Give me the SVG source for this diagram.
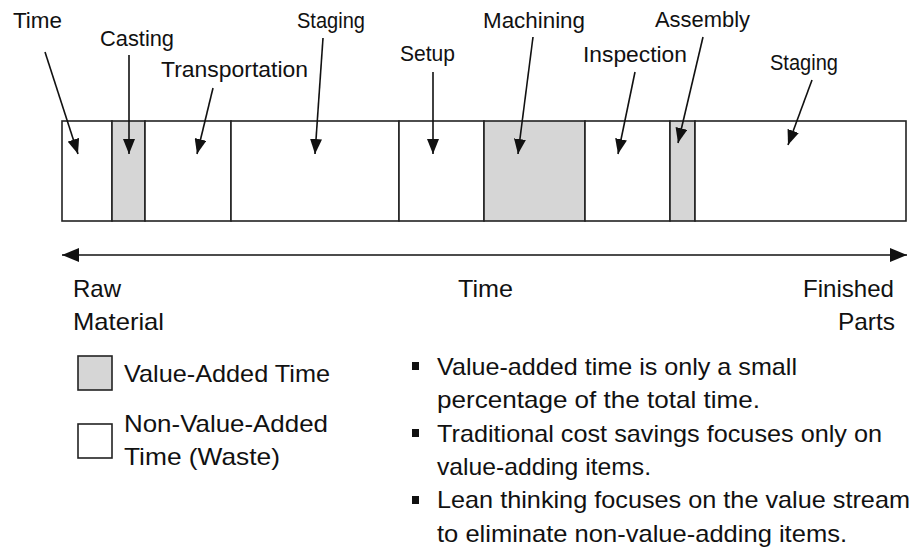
<svg xmlns="http://www.w3.org/2000/svg" width="913" height="552" viewBox="0 0 913 552">
<style>
.seg{stroke:#222;stroke-width:1.6;}
.va{fill:#d6d6d6;}
.nva{fill:#fff;}
.lbl{font-family:"Liberation Sans",Arial,sans-serif;font-size:22px;fill:#111;}
.big{font-family:"Liberation Sans",Arial,sans-serif;font-size:24px;fill:#111;}
.arr{stroke:#111;stroke-width:1.6;fill:none;marker-end:url(#ah);}
.axis{stroke:#111;stroke-width:1.6;fill:none;marker-start:url(#ahs);marker-end:url(#ah2);}
.bullet{fill:#111;}
</style>
<defs>
<marker id="ah" markerUnits="userSpaceOnUse" markerWidth="16" markerHeight="12" refX="15" refY="6" orient="auto"><path d="M0,0 L15,6 L0,12 z" fill="#111"/></marker>
<marker id="ah2" markerUnits="userSpaceOnUse" markerWidth="17" markerHeight="14" refX="17" refY="7" orient="auto"><path d="M0,0 L17,7 L0,14 z" fill="#111"/></marker>
<marker id="ahs" markerUnits="userSpaceOnUse" markerWidth="17" markerHeight="14" refX="0" refY="7" orient="auto"><path d="M17,0 L0,7 L17,14 z" fill="#111"/></marker>
</defs>
<rect width="913" height="552" fill="#fff"/>

<g id="bar">
<g id="seg-time"><rect class="seg nva" x="62" y="121" width="50" height="100"/></g>
<g id="seg-casting"><rect class="seg va" x="112" y="121" width="33" height="100"/></g>
<g id="seg-transportation"><rect class="seg nva" x="145" y="121" width="86" height="100"/></g>
<g id="seg-staging1"><rect class="seg nva" x="231" y="121" width="168" height="100"/></g>
<g id="seg-setup"><rect class="seg nva" x="399" y="121" width="85" height="100"/></g>
<g id="seg-machining"><rect class="seg va" x="484" y="121" width="101" height="100"/></g>
<g id="seg-inspection"><rect class="seg nva" x="585" y="121" width="85" height="100"/></g>
<g id="seg-assembly"><rect class="seg va" x="670" y="121" width="25" height="100"/></g>
<g id="seg-staging2"><rect class="seg nva" x="695" y="121" width="211" height="100"/></g>
</g>

<g id="labels">
<g id="lbl-time"><text class="lbl" x="13" y="28" textLength="49" lengthAdjust="spacingAndGlyphs">Time</text></g>
<g id="lbl-casting"><text class="lbl" x="100" y="46" textLength="74" lengthAdjust="spacingAndGlyphs">Casting</text></g>
<g id="lbl-transportation"><text class="lbl" x="161" y="77" textLength="147" lengthAdjust="spacingAndGlyphs">Transportation</text></g>
<g id="lbl-staging1"><text class="lbl" x="297" y="28" textLength="68" lengthAdjust="spacingAndGlyphs">Staging</text></g>
<g id="lbl-setup"><text class="lbl" x="400" y="61" textLength="55" lengthAdjust="spacingAndGlyphs">Setup</text></g>
<g id="lbl-machining"><text class="lbl" x="483" y="28" textLength="102" lengthAdjust="spacingAndGlyphs">Machining</text></g>
<g id="lbl-inspection"><text class="lbl" x="583" y="62" textLength="104" lengthAdjust="spacingAndGlyphs">Inspection</text></g>
<g id="lbl-assembly"><text class="lbl" x="655" y="27" textLength="95" lengthAdjust="spacingAndGlyphs">Assembly</text></g>
<g id="lbl-staging2"><text class="lbl" x="770" y="70" textLength="68" lengthAdjust="spacingAndGlyphs">Staging</text></g>
</g>

<g id="connectors">
<line class="arr" x1="45" y1="52" x2="78" y2="154"/>
<line class="arr" x1="129" y1="55" x2="129" y2="154"/>
<line class="arr" x1="213" y1="88" x2="197" y2="154"/>
<line class="arr" x1="323" y1="38" x2="315" y2="154"/>
<line class="arr" x1="433" y1="72" x2="433" y2="154"/>
<line class="arr" x1="533" y1="37" x2="518" y2="154"/>
<line class="arr" x1="635" y1="72" x2="618" y2="154"/>
<line class="arr" x1="703" y1="37" x2="678" y2="143"/>
<line class="arr" x1="812" y1="80" x2="788" y2="145"/>
<line class="axis" x1="62" y1="255" x2="907" y2="255"/>
</g>

<g id="axis-labels">
<text class="big" x="73" y="297" textLength="48" lengthAdjust="spacingAndGlyphs">Raw</text>
<text class="big" x="73" y="330" textLength="91" lengthAdjust="spacingAndGlyphs">Material</text>
<text class="big" x="458" y="297" textLength="55" lengthAdjust="spacingAndGlyphs">Time</text>
<text class="big" x="803" y="297" textLength="91" lengthAdjust="spacingAndGlyphs">Finished</text>
<text class="big" x="838" y="330" textLength="57" lengthAdjust="spacingAndGlyphs">Parts</text>
</g>

<g id="legend">
<g id="legend-va">
<rect class="seg va" x="78" y="356" width="34" height="34"/>
<text class="big" x="124" y="382" textLength="206" lengthAdjust="spacingAndGlyphs">Value-Added Time</text>
</g>
<g id="legend-nva">
<rect class="seg nva" x="78" y="424" width="34" height="34"/>
<text class="big" x="124" y="432" textLength="204" lengthAdjust="spacingAndGlyphs">Non-Value-Added</text>
<text class="big" x="124" y="465" textLength="156" lengthAdjust="spacingAndGlyphs">Time (Waste)</text>
</g>
</g>

<g id="notes">
<rect class="bullet" x="412" y="362" width="7" height="8"/>
<rect class="bullet" x="412" y="429" width="7" height="8"/>
<rect class="bullet" x="412" y="496" width="7" height="8"/>
<text class="big" x="437" y="375" textLength="360" lengthAdjust="spacingAndGlyphs">Value-added time is only a small</text>
<text class="big" x="437" y="408" textLength="323" lengthAdjust="spacingAndGlyphs">percentage of the total time.</text>
<text class="big" x="437" y="442" textLength="445" lengthAdjust="spacingAndGlyphs">Traditional cost savings focuses only on</text>
<text class="big" x="437" y="475" textLength="214" lengthAdjust="spacingAndGlyphs">value-adding items.</text>
<text class="big" x="437" y="508" textLength="473" lengthAdjust="spacingAndGlyphs">Lean thinking focuses on the value stream</text>
<text class="big" x="437" y="542" textLength="410" lengthAdjust="spacingAndGlyphs">to eliminate non-value-adding items.</text>
</g>
</svg>
